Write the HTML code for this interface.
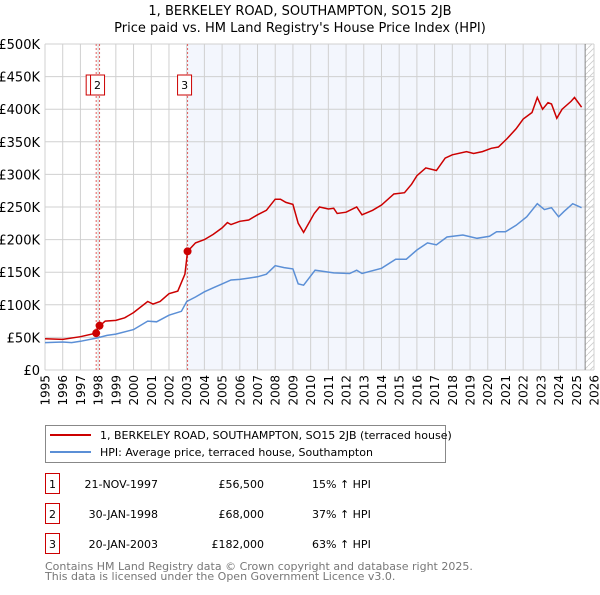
<!DOCTYPE html>
<html><head><meta charset="utf-8"><style>
body{margin:0;background:#fff;font-family:"Liberation Sans","DejaVu Sans",sans-serif;}
svg text{font-family:"DejaVu Sans","Liberation Sans",sans-serif;}
</style></head><body>
<svg id="c" width="600" height="590" xmlns="http://www.w3.org/2000/svg"></svg>
<script>
const hpiT=[1995,1996,1996.5,1997,1997.9,1998.5,1999,2000,2000.8,2001.3,2002,2002.7,2003,2003.5,2004,2004.5,2005,2005.5,2006,2006.5,2007,2007.5,2008,2008.5,2009,2009.3,2009.6,2010.25,2011.3,2012.2,2012.6,2012.9,2014,2014.8,2015.4,2016,2016.6,2017.1,2017.7,2018.6,2019.4,2020.1,2020.5,2021,2021.6,2022.2,2022.8,2023.2,2023.6,2024,2024.3,2024.8,2025.3];
const hpiV=[42,43,42,44,49,53,55,62,75,74,84,90,105,112,120,126,132,138,139,141,143,147,160,157,155,132,130,153,149,148,153,148,156,170,170,184,195,192,204,207,202,205,212,212,222,235,255,246,249,235,243,255,249];
const redT=[1995,1996,1997,1997.8,1998.1,1998.4,1999,1999.5,2000,2000.8,2001.1,2001.5,2002,2002.5,2002.9,2003.05,2003.5,2004,2004.5,2005,2005.3,2005.5,2006,2006.5,2007,2007.5,2008,2008.3,2008.6,2009,2009.3,2009.6,2010.2,2010.5,2011,2011.3,2011.5,2012,2012.6,2012.9,2013.5,2014,2014.7,2015.3,2015.7,2016,2016.5,2017.1,2017.6,2018,2018.8,2019.2,2019.7,2020.2,2020.6,2021.1,2021.6,2022,2022.5,2022.8,2023.1,2023.4,2023.6,2023.9,2024.2,2024.7,2024.9,2025.3];
const redV=[48,47,51,56,68,75,76,80,88,105,101,105,117,121,147,182,195,200,208,218,226,223,228,230,238,245,262,262,257,254,225,211,240,250,247,248,240,242,250,238,245,253,270,272,285,298,310,306,325,330,335,332,335,340,342,355,370,385,395,418,400,410,408,386,400,412,418,403];
const saleT=[1997.89,1998.08,2003.05];
const saleV=[56.5,68,182];
const saleLabels=["1","2","3"];
const yTicks=[0,50,100,150,200,250,300,350,400,450,500];
const yTickLabels=["£0","£50K","£100K","£150K","£200K","£250K","£300K","£350K","£400K","£450K","£500K"];
const xYears=[];for(let y=1995;y<=2026;y++)xYears.push(y);

const NS="http://www.w3.org/2000/svg",svg=document.getElementById('c');
const X=t=>45+(t-1995)*(549/31), Y=v=>370-v*0.652;
function mk(tag,at,parent){const e=document.createElementNS(NS,tag);for(const k in at)e.setAttribute(k,at[k]);(parent||svg).appendChild(e);return e;}
let e;
e=mk('text',{x:300,y:15,'text-anchor':'middle','font-size':13});e.textContent="1, BERKELEY ROAD, SOUTHAMPTON, SO15 2JB";


e=mk('text',{x:300,y:32,'text-anchor':'middle','font-size':13});e.textContent="Price paid vs. HM Land Registry's House Price Index (HPI)";


e=mk('rect',{x:X(2003.05),y:44,width:X(2025.5)-X(2003.05),height:326,fill:'#f3f6fd'});


const defs=mk('defs',{});const pat=mk('pattern',{id:'h',width:6,height:6,patternUnits:'userSpaceOnUse'},defs);
mk('path',{d:'M0,6 L6,0',stroke:'#ccc','stroke-width':0.8},pat);
e=mk('rect',{x:X(2025.5),y:44,width:X(2026)-X(2025.5),height:326,fill:'url(#h)'});


yTicks.forEach((v,i)=>{
 e=mk('line',{x1:45,x2:X(2026),y1:Y(v),y2:Y(v),stroke:'#d0d0d0','stroke-width':1});
 
 
 e=mk('text',{x:40,y:Y(v)+5,'text-anchor':'end','font-size':13});e.textContent=yTickLabels[i];
 
 
});
xYears.forEach(y=>{
 e=mk('line',{x1:X(y),x2:X(y),y1:44,y2:370,stroke:'#d0d0d0','stroke-width':1});
 
 
 const tx=X(y)+4.5;
 e=mk('text',{x:tx,y:375,'text-anchor':'end','font-size':12,transform:`rotate(-90 ${tx} 375)`});e.textContent=y;
 
 
});
e=mk('line',{x1:X(2025.5),x2:X(2025.5),y1:44,y2:370,stroke:'#888','stroke-width':1});


saleT.forEach((t,i)=>{
 e=mk('line',{x1:X(t),x2:X(t),y1:44,y2:370,stroke:'#e06060','stroke-width':1,'stroke-dasharray':'2,2'});
 
 
});
[0,1,2].forEach(i=>{
 const bx=i==0?X(saleT[0])-10:(i==1?X(saleT[1])-9:X(saleT[2])-10);
 const g=mk('g',{});
 
 
 mk('rect',{x:bx,y:75,width:14,height:20,fill:'#fff',stroke:'#c00','stroke-width':1},g);
 const t=mk('text',{x:bx+7,y:89,'text-anchor':'middle','font-size':11},g);t.textContent=saleLabels[i];
});
const path=(T,V)=>T.map((t,i)=>(i?'L':'M')+X(t).toFixed(1)+','+Y(V[i]).toFixed(1)).join(' ');
e=mk('path',{d:path(hpiT,hpiV),fill:'none',stroke:'#5b8fd6','stroke-width':1.5});


e=mk('path',{d:path(redT,redV),fill:'none',stroke:'#cc0000','stroke-width':1.5});


saleT.forEach((t,i)=>{
 e=mk('circle',{cx:X(t),cy:Y(saleV[i]),r:4,fill:'#cc0000'});
 
 
});
const lg=mk('g',{});


mk('rect',{x:45.5,y:425.5,width:400,height:37,fill:'#fff',stroke:'#888'},lg);
mk('line',{x1:50,x2:91,y1:435,y2:435,stroke:'#cc0000','stroke-width':2},lg);
mk('line',{x1:50,x2:91,y1:452,y2:452,stroke:'#5b8fd6','stroke-width':2},lg);
e=mk('text',{x:100,y:439,'font-size':11},lg);e.textContent="1, BERKELEY ROAD, SOUTHAMPTON, SO15 2JB (terraced house)";
e=mk('text',{x:100,y:456,'font-size':11},lg);e.textContent="HPI: Average price, terraced house, Southampton";
const rows=[["1","21-NOV-1997","£56,500","15% ↑ HPI"],["2","30-JAN-1998","£68,000","37% ↑ HPI"],["3","20-JAN-2003","£182,000","63% ↑ HPI"]];
rows.forEach((r,i)=>{
 const y=483+i*30;
 const g=mk('g',{});
 
 
 mk('rect',{x:45.5,y:y-9.5,width:14,height:20,fill:'#fff',stroke:'#c00'},g);
 let t=mk('text',{x:52.5,y:y+5,'text-anchor':'middle','font-size':11},g);t.textContent=r[0];
 t=mk('text',{x:158,y:y+5,'text-anchor':'end','font-size':11},g);t.textContent=r[1];
 t=mk('text',{x:264,y:y+5,'text-anchor':'end','font-size':11},g);t.textContent=r[2];
 t=mk('text',{x:312,y:y+5,'font-size':11},g);t.textContent=r[3];
});
e=mk('text',{x:45,y:570,'font-size':11,fill:'#777'});e.textContent="Contains HM Land Registry data © Crown copyright and database right 2025.";


e=mk('text',{x:45,y:580,'font-size':11,fill:'#777'});e.textContent="This data is licensed under the Open Government Licence v3.0.";


</script>
</body></html>
